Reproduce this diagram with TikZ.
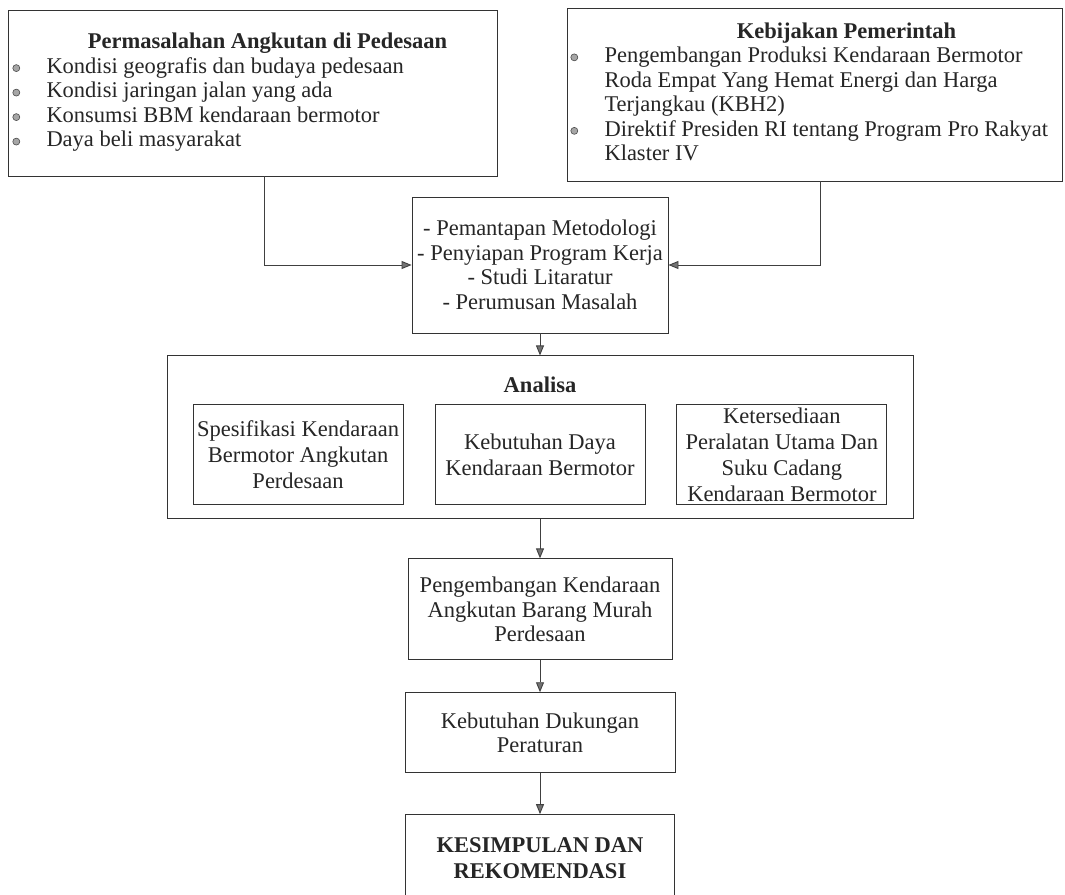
\documentclass[tikz,border=0pt]{standalone}
\usepackage{fontspec}
\setmainfont{Liberation Serif}
\usepackage{array}
\usetikzlibrary{arrows.meta,positioning}

\newcommand{\butir}{\hspace*{-4pt}\raisebox{1.5pt}{\tikz\draw[black!70,line width=0.6pt,fill=black!35] (0pt,0pt) circle (3.5pt);}}

\begin{document}
\begin{tikzpicture}[x=1pt,y=1pt,>={Triangle[length=10pt,width=8pt,fill=black!55]},
  kotak/.style={draw=black!80,line width=0.9pt,align=center,inner sep=0pt,text=black!85,
    font=\fontsize{22.5}{24.5}\selectfont},
  kecil/.style={kotak,minimum width=210pt,minimum height=100pt,font=\fontsize{22.5}{26}\selectfont},
  alur/.style={->,draw=black!75,line width=0.9pt}]
\useasboundingbox[fill=white] (0,0) rectangle (1065,-894);
% kotak atas
\node[kotak,minimum width=489pt,minimum height=166pt] (masalah) at (252.5,-93) {%
  \begin{tabular}{@{}p{30pt}@{}p{442pt}@{}}
   & \multicolumn{1}{c}{\textbf{Permasalahan Angkutan di Pedesaan}}\\
  \butir & Kondisi geografis dan budaya pedesaan\\
  \butir & Kondisi jaringan jalan yang ada\\
  \butir & Konsumsi BBM kendaraan bermotor\\
  \butir & Daya beli masyarakat
  \end{tabular}};
\node[kotak,minimum width=495pt,minimum height=173pt] (kebijakan) at (814.5,-94.5) {%
  \begin{tabular}{@{}p{30pt}@{}p{450pt}@{}}
   & \multicolumn{1}{c}{\hspace{34pt}\textbf{Kebijakan Pemerintah}}\\
  \butir & Pengembangan Produksi Kendaraan Bermotor\\
   & Roda Empat Yang Hemat Energi dan Harga\\
   & Terjangkau (KBH2)\\
  \butir & Direktif Presiden RI tentang Program Pro Rakyat\\
   & Klaster IV
  \end{tabular}};
\node[kotak,minimum width=256pt,minimum height=136pt] (tahap) at (540,-265)
  {- Pemantapan Metodologi\\- Penyiapan Program Kerja\\- Studi Litaratur\\- Perumusan Masalah};
% analisa
\node[kotak,minimum width=746pt,minimum height=163pt,below=22pt of tahap] (analisa) {};
\node[kotak,draw=none,font=\fontsize{22.5}{24.5}\selectfont\bfseries,below=21pt of analisa.north] (judul) {Analisa};
\node[kecil,below=49pt of analisa.north] (daya) {Kebutuhan Daya\\Kendaraan Bermotor};
\node[kecil,left=31pt of daya] (spek) {Spesifikasi Kendaraan\\Bermotor Angkutan\\Perdesaan};
\node[kecil,right=31pt of daya] (suku) {Ketersediaan\\Peralatan Utama Dan\\Suku Cadang\\Kendaraan Bermotor};
% kotak bawah
\node[kotak,minimum width=264pt,minimum height=101pt,below=39pt of analisa] (kembang)
  {Pengembangan Kendaraan\\Angkutan Barang Murah\\Perdesaan};
\node[kotak,minimum width=270pt,minimum height=80pt,below=32pt of kembang] (dukung)
  {Kebutuhan Dukungan\\Peraturan};
\node[kotak,minimum width=269pt,minimum height=88pt,below=41pt of dukung,
  font=\fontsize{22.5}{26}\selectfont\bfseries] (simpul) {KESIMPULAN DAN\\REKOMENDASI};
% panah
\draw[alur] ([xshift=11.5pt]masalah.south) |- (tahap.west);
\draw[alur] ([xshift=5.5pt]kebijakan.south) |- (tahap.east);
\draw[alur] (tahap) -- (analisa);
\draw[alur] (analisa) -- (kembang);
\draw[alur] (kembang) -- (dukung);
\draw[alur] (dukung) -- (simpul);
\end{tikzpicture}
\end{document}
